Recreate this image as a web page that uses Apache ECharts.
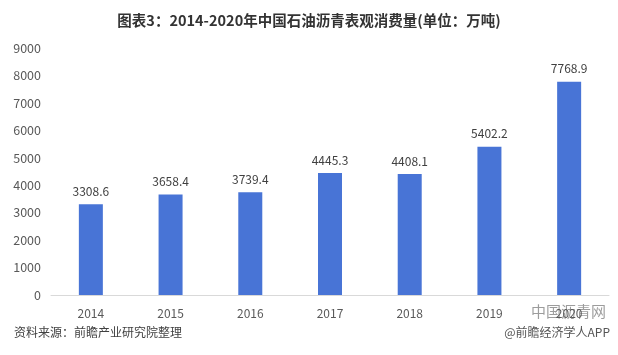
<!DOCTYPE html>
<html>
<head>
<meta charset="utf-8">
<script src="https://cdn.jsdelivr.net/npm/echarts@6/dist/echarts.min.js"></script>
<style>
  html, body { margin: 0; padding: 0; background: #fff; }
  #main { width: 618px; height: 355px; }
</style>
</head>
<body>
<div id="main"></div>
<script>
// 年份 / 表观消费量(万吨)
const years = ['2014', '2015', '2016', '2017', '2018', '2019', '2020'];
const consumption = [3308.6, 3658.4, 3739.4, 4445.3, 4408.1, 5402.2, 7768.9];

const chart = echarts.init(document.getElementById('main'));

const option = {
  backgroundColor: '#fff',
  animation: false,
  textStyle: { fontFamily: '"Noto Sans CJK SC", "Microsoft YaHei", sans-serif' },
  title: {
    text: '图表3：2014-2020年中国石油沥青表观消费量(单位：万吨)',
    left: 'center',
    top: 8,
    textStyle: { fontSize: 14.5, fontWeight: 'bold', color: '#333' }
  },
  grid: {
    left: 51,
    right: 9,
    top: 48,
    bottom: 60
  },
  xAxis: {
    type: 'category',
    data: years,
    axisLine: { lineStyle: { color: '#d9d9d9' } },
    axisTick: { show: false },
    axisLabel: { color: '#595959', fontSize: 12, margin: 12 }
  },
  yAxis: {
    type: 'value',
    min: 0,
    max: 9000,
    interval: 1000,
    splitLine: { show: false },
    axisLine: { show: false },
    axisTick: { show: false },
    axisLabel: {
      color: '#595959',
      fontSize: 12.5,
      margin: 10,
      align: 'right',
      formatter: function (v) { return String(v); }
    }
  },
  series: [{
    type: 'bar',
    data: consumption,
    barWidth: 24,
    itemStyle: { color: '#4874d6' },
    label: {
      show: true,
      position: 'top',
      distance: 7,
      color: '#404040',
      fontSize: 12
    }
  }],
  graphic: [
    {
      type: 'text',
      left: 14,
      top: 326,
      style: { text: '资料来源：前瞻产业研究院整理', fill: '#404040', fontSize: 12,
        fontFamily: '"Noto Sans CJK SC", sans-serif' }
    },
    {
      type: 'text',
      right: 8,
      top: 326,
      style: { text: '@前瞻经济学人APP', fill: '#555', fontSize: 12,
        fontFamily: '"Noto Sans CJK SC", sans-serif' }
    },
    {
      type: 'text',
      right: 12,
      top: 304,
      style: { text: '中国沥青网', fill: 'rgba(90,90,90,0.6)', fontSize: 15,
        fontFamily: '"Noto Sans CJK SC", sans-serif' }
    }
  ]
};

chart.setOption(option);
</script>
</body>
</html>
